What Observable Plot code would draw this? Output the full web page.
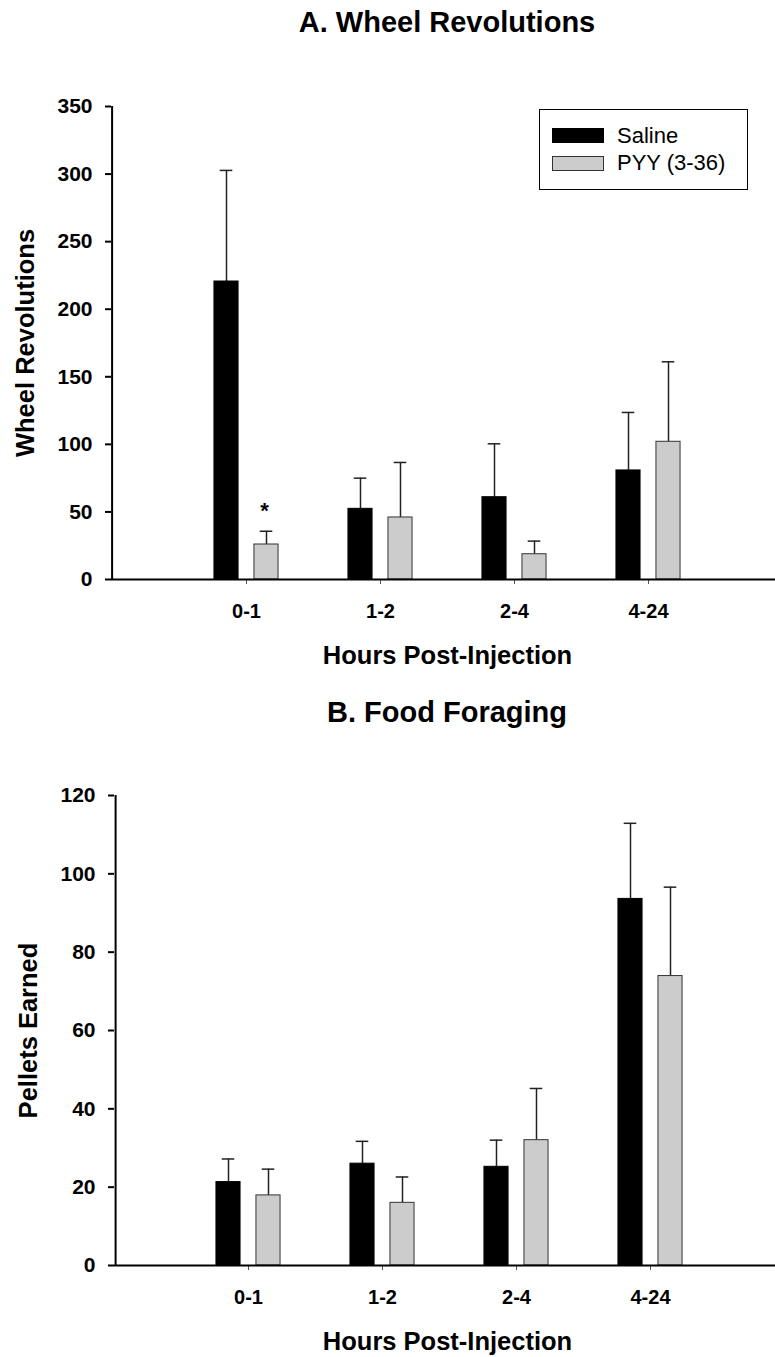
<!DOCTYPE html>
<html>
<head>
<meta charset="utf-8">
<script src="https://cdn.jsdelivr.net/npm/d3@7"></script>
<script src="https://cdn.jsdelivr.net/npm/@observablehq/plot@0.6"></script>
<style>
  body { margin: 0; background: #fff; font-family: "Liberation Sans", Arial, sans-serif; }
  #root { position: relative; width: 775px; height: 1357px; overflow: hidden; background: #fff; }
  .title { position: absolute; left: 0; width: 894px; text-align: center; font-weight: bold;
           font-size: 29px; line-height: 29px; white-space: nowrap; color: #000; }
  .panel { position: absolute; left: 0; }
  .legend-box { position: absolute; border: 1px solid #000; background: #fff; box-sizing: border-box; }
  .swatch { position: absolute; box-sizing: border-box; }
  .legend-text { position: absolute; font-size: 22px; line-height: 22px; white-space: nowrap; color: #000; }
</style>
</head>
<body>
<div id="root"></div>
<script>
// ---------- data ----------
const categories = ["0-1", "1-2", "2-4", "4-24"];
const series = ["Saline", "PYY (3-36)"];
const seriesColors = ["#000000", "#cccccc"];

const wheelSaline    = [220.5, 52.3, 60.9, 80.7];
const wheelSalineSEM = [82.2, 22.7, 39.5, 42.9];
const wheelPYY       = [25.9, 45.9, 18.7, 101.9];
const wheelPYYSEM    = [9.8, 40.7, 9.7, 59.2];

const pelletsSaline    = [21.3, 26.0, 25.2, 93.6];
const pelletsSalineSEM = [5.9, 5.7, 6.8, 19.3];
const pelletsPYY       = [17.9, 16.0, 32.0, 73.9];
const pelletsPYYSEM    = [6.7, 6.6, 13.2, 22.7];

const wheelTicks  = [0, 50, 100, 150, 200, 250, 300, 350];
const pelletTicks = [0, 20, 40, 60, 80, 100, 120];

const wheelSignificance = [{category: "0-1", series: "PYY (3-36)", label: "*"}];

const titleA = "A. Wheel Revolutions";
const titleB = "B. Food Foraging";
const yLabelA = "Wheel Revolutions";
const yLabelB = "Pellets Earned";
const xLabel = "Hours Post-Injection";

// ---------- drawing ----------
const FONT = "'Liberation Sans', Arial, sans-serif";
const root = document.getElementById("root");

function addTitle(text, top) {
  const d = document.createElement("div");
  d.className = "title";
  d.style.top = top + "px";
  d.textContent = text;
  root.appendChild(d);
}

function makePanel({means, sems, ticks, yMax, yLabel, top, height, marginTop, marginBottom, marginLeft, xStart, signif}) {
  const step = 134.4;
  const barW = 24.5;
  const capW = 13;
  const offsets = [-20, 20];
  const rows = [];
  series.forEach((s, si) => {
    categories.forEach((c, ci) => {
      rows.push({category: c, series: s, si, value: means[si][ci], sem: sems[si][ci]});
    });
  });
  const marks = [];
  series.forEach((s, si) => {
    const data = rows.filter(r => r.si === si);
    const inset = (step - barW) / 2;
    const capInset = (step - capW) / 2;
    marks.push(
      Plot.ruleX(data, {x: "category", y1: "value", y2: d => d.value + d.sem, dx: offsets[si],
                        stroke: "#222", strokeWidth: 1.5}),
      Plot.tickY(data, {x: "category", y: d => d.value + d.sem, dx: offsets[si],
                        insetLeft: capInset, insetRight: capInset, stroke: "#222", strokeWidth: 1.5}),
      Plot.barY(data, {x: "category", y: "value", dx: offsets[si], insetLeft: inset, insetRight: inset,
                       fill: seriesColors[si], stroke: si === 0 ? "#000" : "#333", strokeWidth: 1})
    );
  });
  if (signif) {
    const sdata = signif.map(s => {
      const r = rows.find(r => r.category === s.category && r.series === s.series);
      return {...s, top: r.value + r.sem, si: r.si};
    });
    marks.push(Plot.text(sdata, {x: "category", y: "top", text: "label", dx: offsets[sdata[0].si] - 2, dy: -12.8,
                                 lineAnchor: "bottom", fontSize: 22, fontWeight: "bold"}));
  }
  // centre of first band, used to place the y-axis line at the left frame edge
  const firstCenter = xStart + step;
  const chart = Plot.plot({
    width: 775,
    height,
    marginLeft,
    marginRight: 0,
    marginTop,
    marginBottom,
    style: {fontFamily: FONT, color: "#000", background: "#fff", overflow: "visible"},
    x: {domain: categories, range: [xStart, xStart + step * 5], paddingInner: 0, paddingOuter: 0.5, axis: null},
    y: {domain: [0, yMax], axis: null},
    marks: [
      Plot.axisY({ticks, tickSize: 6, tickPadding: 13, fontSize: 21, fontWeight: "bold",
                  strokeWidth: 2, label: null}),
      Plot.axisX({tickSize: 5, tickPadding: 19.5, fontSize: 20, fontWeight: "bold", label: null,
                  stroke: "#555", strokeWidth: 1}),
      ...marks,
      Plot.ruleX([categories[0]], {x: d => d, y1: 0, y2: yMax, dx: marginLeft - firstCenter,
                                   stroke: "#000", strokeWidth: 2}),
      Plot.ruleY([0], {strokeWidth: 2, stroke: "#000"}),
      Plot.text([yLabel], {text: d => d, frameAnchor: "left", rotate: -90, textAnchor: "middle",
                           lineAnchor: "bottom", dx: -78, fontSize: 25.5, fontWeight: "bold"}),
      Plot.text([xLabel], {text: d => d, frameAnchor: "bottom", lineAnchor: "bottom",
                           dx: 447 - (marginLeft + 775) / 2, dy: 84, fontSize: 25.5, fontWeight: "bold"})
    ]
  });
  const wrap = document.createElement("div");
  wrap.className = "panel";
  wrap.style.top = top + "px";
  wrap.appendChild(chart);
  root.appendChild(wrap);
}

addTitle(titleA, 7.5);
makePanel({
  means: [wheelSaline, wheelPYY], sems: [wheelSalineSEM, wheelPYYSEM],
  ticks: wheelTicks, yMax: 350, yLabel: yLabelA,
  top: 40, height: 650, marginTop: 66, marginBottom: 111, marginLeft: 111, xStart: 111,
  signif: wheelSignificance
});

addTitle(titleB, 697.5);
makePanel({
  means: [pelletsSaline, pelletsPYY], sems: [pelletsSalineSEM, pelletsPYYSEM],
  ticks: pelletTicks, yMax: 120, yLabel: yLabelB,
  top: 735, height: 622, marginTop: 60, marginBottom: 92, marginLeft: 114, xStart: 112.5,
  signif: null
});

// legend (panel A)
const box = document.createElement("div");
box.className = "legend-box";
Object.assign(box.style, {left: "539px", top: "109px", width: "209px", height: "81px"});
root.appendChild(box);
const swTops = [128, 156];
const textTops = [124.7, 152];
series.forEach((s, i) => {
  const sw = document.createElement("div");
  sw.className = "swatch";
  Object.assign(sw.style, {left: "552px", top: swTops[i] + "px", width: "52px", height: "15px",
    background: seriesColors[i], border: i === 0 ? "none" : "1px solid #333"});
  root.appendChild(sw);
  const t = document.createElement("div");
  t.className = "legend-text";
  Object.assign(t.style, {left: "617px", top: textTops[i] + "px"});
  t.textContent = s;
  root.appendChild(t);
});
</script>
</body>
</html>
